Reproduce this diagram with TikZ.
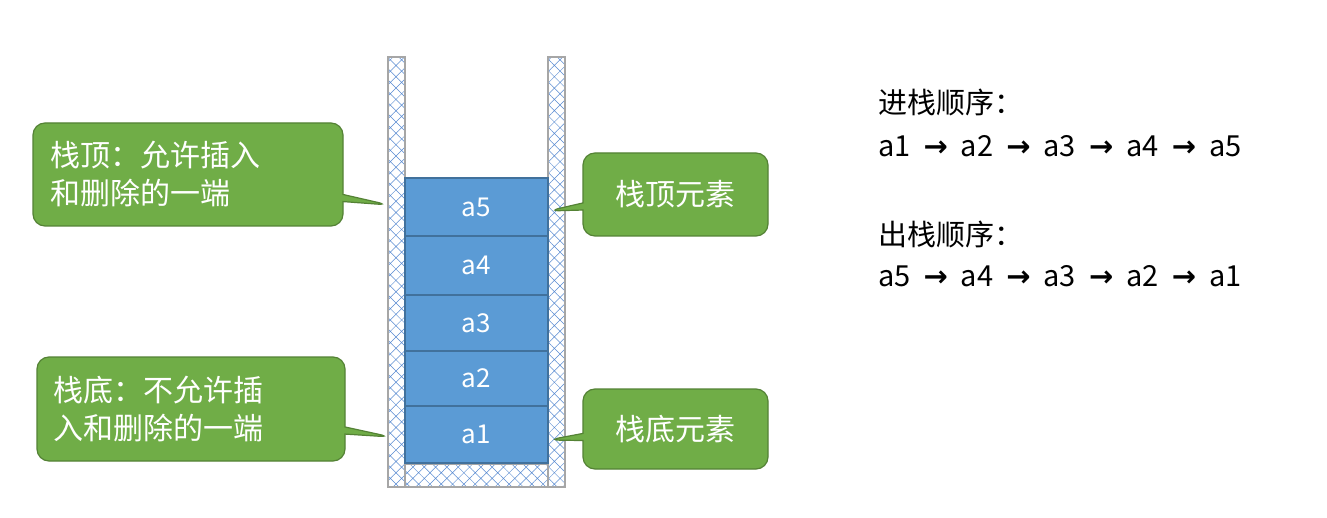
\documentclass[tikz,border=0pt]{standalone}
\usepackage{fontspec}
\setmainfont{Noto Sans CJK SC}
\newfontfamily\arrfont{DejaVu Sans}
\newcommand{\arr}{\hspace{13pt}{\arrfont\bfseries →}\hspace{13pt}}
\usetikzlibrary{shapes.callouts,patterns.meta}
\definecolor{gfill}{RGB}{112,173,71}
\definecolor{gdraw}{RGB}{84,130,53}
\definecolor{bfill}{RGB}{91,155,213}
\definecolor{bdraw}{RGB}{65,113,156}
\definecolor{hatchc}{RGB}{90,140,210}
\begin{document}
\begin{tikzpicture}[x=1pt,y=-1pt,
  wall/.style={draw=gray!70,line width=1.2pt,pattern={Hatch[angle=45,distance=8pt,line width=0.5pt]},pattern color=hatchc},
  elem/.style={draw=bdraw,fill=bfill,line width=1.2pt,minimum width=143pt,minimum height=57pt,text=white,font=\fontsize{26}{30}\selectfont,inner sep=0pt},
  callout/.style={rectangle callout,draw=gdraw,fill=gfill,line width=1.2pt,rounded corners=12pt,text=white,font=\fontsize{30}{38}\selectfont,align=left,inner sep=0pt},
  info/.style={anchor=west,font=\fontsize{29}{34}\selectfont,inner sep=0pt}]
\useasboundingbox (0,0) rectangle (1327,518);
\fill[white] (0,0) rectangle (1327,518);
% walls
\path[wall] (388,57) rectangle (405,487);
\path[wall] (548,57) rectangle (565,487);
\path[wall] (405,464) rectangle (548,487);
% elements
\node[elem] (a1) at (476.5,434.5) {a1};
\node[elem,minimum height=55pt] (a2) at (476.5,378.5) {a2};
\node[elem,minimum height=56pt] (a3) at (476.5,323) {a3};
\node[elem,minimum height=59pt] (a4) at (476.5,265.5) {a4};
\node[elem,minimum height=58pt] (a5) at (476.5,207) {a5};
\coordinate (pt1) at (389,205);
\coordinate (pt2) at (391,437);
\coordinate (pt3) at (548,211);
\coordinate (pt4) at (548,440);
% callouts
\node[callout,minimum width=310pt,minimum height=103pt,text width=276pt,callout absolute pointer=(pt1)] (c1) at (188,174.5) {栈顶：允许插入\\和删除的一端};
\node[callout,minimum width=308pt,minimum height=104pt,text width=276pt,callout absolute pointer=(pt2)] (c2) at (191,409) {栈底：不允许插\\入和删除的一端};
\node[callout,minimum width=185pt,minimum height=83pt,align=center,callout absolute pointer=(pt3)] (c3) at (675.5,194.5) {栈顶元素};
\node[callout,minimum width=185pt,minimum height=80pt,align=center,callout absolute pointer=(pt4)] (c4) at (675.5,429) {栈底元素};
% info text
\node[info] (t1) at (878,102) {进栈顺序：};
\node[info] (t2) at (878,146) {a1\arr a2\arr a3\arr a4\arr a5};
\node[info] (t3) at (878,234) {出栈顺序：};
\node[info] (t4) at (878,276) {a5\arr a4\arr a3\arr a2\arr a1};
\end{tikzpicture}
\end{document}
